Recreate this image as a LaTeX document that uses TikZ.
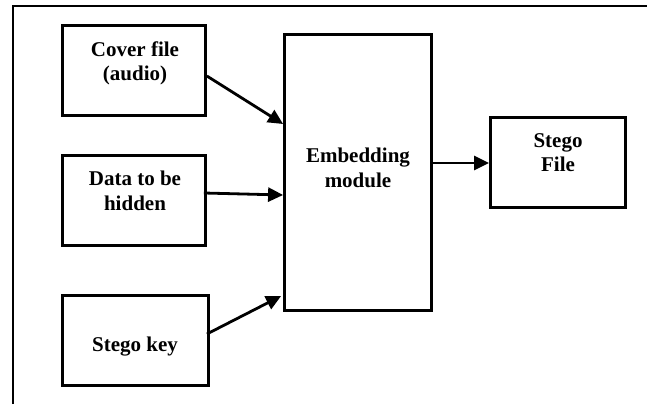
\documentclass[tikz,border=0pt]{standalone}
\usepackage{fontspec}
\setmainfont{Liberation Serif}
\usetikzlibrary{arrows.meta,calc}
\begin{document}
\begin{tikzpicture}[x=1pt,y=-1pt,
  blockbox/.style={draw, line width=2.8pt, inner sep=0pt},
  boxtext/.style={font=\fontsize{21}{24.5}\selectfont\bfseries, align=center, anchor=base, inner sep=0pt},
  flow/.style={line width=2.8pt, -{Triangle[length=15pt,width=14pt]}}]
\useasboundingbox (0,0) rectangle (647,404);
% page frame
\draw[line width=1.8pt] (13,404) -- (13,6) -- (647,6);

% blocks
\node[blockbox, minimum width=143pt, minimum height=90pt] (cover) at (134,70.5) {};
\node[blockbox, minimum width=143pt, minimum height=90pt] (data) at (134,200.5) {};
\node[blockbox, minimum width=146pt, minimum height=90pt] (key) at (135.5,340.5) {};
\node[blockbox, minimum width=147pt, minimum height=276pt] (embed) at (358,172.5) {};
\node[blockbox, minimum width=135pt, minimum height=90pt] (stego) at (558,162.5) {};

% block texts (base anchor sits on the last line)
\node[boxtext] (covertext) at (135,80.5) {Cover file\\(audio)};
\node[boxtext] (datatext) at (135,210) {Data to be\\hidden};
\node[boxtext] (keytext) at (135,351) {Stego key};
\node[boxtext] (embedtext) at (358,187) {Embedding\\module};
\node[boxtext] (stegotext) at (558,171.5) {Stego\\File};

% connectors
\draw[flow] ($(cover.east)+(0,5.5)$) -- ($(embed.west)+(0,-48.5)$);
\draw[flow] ($(data.east)+(-3,-7.5)$) -- ($(embed.west)+(0,22.5)$);
\draw[flow] ($(key.east)+(-3,-6.5)$) -- ($(embed.west)+(-2,123.5)$);
\draw[flow] ($(embed.east)+(-2,-9.5)$) -- ($(stego.west)+(0,0.5)$);
\end{tikzpicture}
\end{document}
